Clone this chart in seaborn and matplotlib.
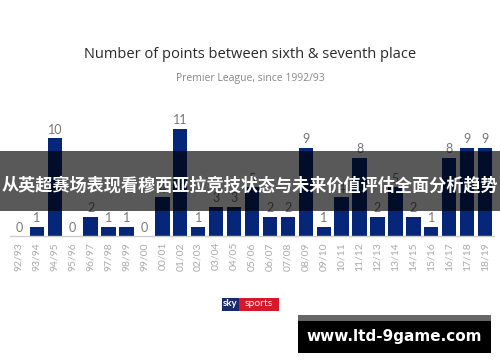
import matplotlib
matplotlib.use("Agg")
import matplotlib.pyplot as plt
import seaborn as sns
import pandas as pd
from matplotlib.patches import Rectangle

seasons = ["92/93", "93/94", "94/95", "95/96", "96/97", "97/98", "98/99", "99/00",
           "00/01", "01/02", "02/03", "03/04", "04/05", "05/06", "06/07", "07/08",
           "08/09", "09/10", "10/11", "11/12", "12/13", "13/14", "14/15", "15/16",
           "16/17", "17/18", "18/19"]
points_gap = [0, 1, 10, 0, 2, 1, 1, 0, 4, 11, 1, 3, 3, 5, 2, 2, 9, 1, 4, 8, 2, 5, 2, 1, 8, 9, 9]

title_text = "Number of points between sixth & seventh place"
subtitle_text = "Premier League, since 1992/93"
banner_text = "从英超赛场表现看穆西亚拉竞技状态与未来价值评估全面分析趋势"
watermark_text = "www.ltd-9game.com"

sns.set_theme(style="white")
plt.rcParams["font.family"] = ["Lato", "DejaVu Sans"]

df = pd.DataFrame({"season": seasons, "gap": points_gap})

fig = plt.figure(figsize=(5.0, 3.62), dpi=100)
fig.patch.set_facecolor("white")
ax = fig.add_axes([0.02, 0.3467, 0.968, 0.325])

navy = "#06267a"
sns.barplot(data=df, x="season", y="gap", color=navy, width=0.8, ax=ax,
            saturation=1, edgecolor="none")
ax.set_ylim(0, 12)
ax.set_xlim(-0.5, len(seasons) - 0.5)
ax.set_xlabel("")
ax.set_ylabel("")
ax.set_yticks([])
for s in ["top", "right", "left"]:
    ax.spines[s].set_visible(False)
ax.spines["bottom"].set_color("#cccccc")
ax.spines["bottom"].set_linewidth(1.0)
ax.tick_params(axis="x", length=0, pad=4, labelsize=7.5, labelcolor="#aaaaaa", rotation=90)
for lbl in ax.get_xticklabels():
    lbl.set_fontfamily(["Lato", "DejaVu Sans"])

ax.bar_label(ax.containers[0], labels=[str(v) for v in points_gap], padding=2,
             fontsize=9, color="#777777")

fig.text(0.5, 1 - 54 / 362, title_text, ha="center", va="center",
         fontsize=10.5, color="#2a2a2a", fontweight="medium",
         family=["Open Sans", "DejaVu Sans"])
fig.text(0.5, 1 - 79 / 362, subtitle_text, ha="center", va="center",
         fontsize=7.5, color="#888888", family=["Open Sans", "DejaVu Sans"])

# banner overlay
fig.patches.append(Rectangle((0, 1 - 211 / 362), 1, 60 / 362, transform=fig.transFigure,
                             facecolor="black", alpha=0.65, edgecolor="none", zorder=5))
fig.text(0.5, 1 - 185 / 362, banner_text, ha="center", va="center", fontsize=12.3,
         color="white", fontweight="bold", zorder=6,
         family=["Noto Sans CJK SC", "DejaVu Sans"])

# sky sports logo
fig.patches.append(Rectangle((222 / 500, 1 - 311 / 362), 17 / 500, 13 / 362,
                             transform=fig.transFigure, facecolor="#1b2a6b",
                             edgecolor="none", zorder=5))
fig.patches.append(Rectangle((239 / 500, 1 - 311 / 362), 40 / 500, 13 / 362,
                             transform=fig.transFigure, facecolor="#d7182a",
                             edgecolor="none", zorder=5))
fig.text(230.5 / 500, 1 - 304 / 362, "sky", ha="center", va="center", fontsize=7,
         color="white", fontweight="bold", zorder=6)
fig.text(259 / 500, 1 - 304 / 362, "sports", ha="center", va="center", fontsize=7.5,
         color="white", zorder=6)

# watermark
fig.patches.append(Rectangle((298 / 500, 1 - 353 / 362), 193 / 500, 38 / 362,
                             transform=fig.transFigure, facecolor="black",
                             edgecolor="none", zorder=5))
fig.patches.append(Rectangle((298 / 500, 1 - 321 / 362), 193 / 500, 6 / 362,
                             transform=fig.transFigure, facecolor="#666666",
                             edgecolor="none", zorder=6))
fig.text(394 / 500, 1 - 337 / 362, watermark_text, ha="center", va="center",
         fontsize=11, color="white", fontweight="bold", zorder=7,
         family=["DejaVu Sans"])

fig.savefig("out.png", dpi=100, facecolor="white")
